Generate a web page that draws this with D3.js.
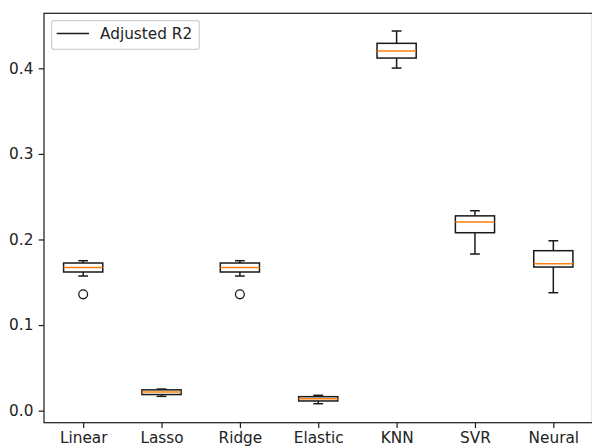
<!DOCTYPE html>
<html>
<head>
<meta charset="utf-8">
<script src="https://cdn.jsdelivr.net/npm/d3@7"></script>
<style>
  html, body { margin: 0; padding: 0; background: #fff; }
  svg { display: block; }
  text { font-family: "DejaVu Sans", sans-serif; }
</style>
</head>
<body>
<svg id="chart" width="592" height="448"></svg>
<script>
// ---- data ----
const categories = ["Linear", "Lasso", "Ridge", "Elastic", "KNN", "SVR", "Neural"];
const whiskerLow  = [0.1573, 0.0167, 0.1573, 0.0081, 0.4003, 0.1830, 0.1378];
const q1          = [0.1620, 0.0188, 0.1620, 0.0113, 0.4120, 0.2079, 0.1678];
const medians     = [0.1674, 0.0217, 0.1674, 0.0139, 0.4202, 0.2204, 0.1716];
const q3          = [0.1725, 0.0243, 0.1725, 0.0163, 0.4292, 0.2276, 0.1869];
const whiskerHigh = [0.1752, 0.0252, 0.1752, 0.0179, 0.4436, 0.2336, 0.1985];
const outliers    = [[0.1359], [], [0.1359], [], [], [], []];
const yTicks      = [0.0, 0.1, 0.2, 0.3, 0.4];
const legendLabel = "Adjusted R2";

// ---- layout ----
const plot = { left: 44, right: 592.5, top: 13.3, bottom: 422.7 };
const svg = d3.select("#chart");

const x = d3.scaleLinear().domain([0.5, 7.5]).range([plot.left, plot.right]);
const y = d3.scaleLinear().domain([-0.0141, 0.4643]).range([plot.bottom, plot.top]);

const boxW = x(1.25) - x(1);      // half-width of box (width 0.5)
const capW = boxW / 2;

const data = categories.map((c, i) => ({
  name: c, pos: i + 1,
  lo: whiskerLow[i], q1: q1[i], med: medians[i], q3: q3[i], hi: whiskerHigh[i],
  out: outliers[i]
}));

const g = svg.append("g");
const lw = 1.5;
const ink = "#1a1a1a";

data.forEach(d => {
  const cx = x(d.pos);
  const gg = g.append("g");
  gg.append("line").attr("x1", cx).attr("x2", cx).attr("y1", y(d.q1)).attr("y2", y(d.lo))
    .attr("stroke", ink).attr("stroke-width", lw);
  gg.append("line").attr("x1", cx).attr("x2", cx).attr("y1", y(d.q3)).attr("y2", y(d.hi))
    .attr("stroke", ink).attr("stroke-width", lw);
  gg.append("line").attr("x1", cx - capW / 2).attr("x2", cx + capW / 2).attr("y1", y(d.lo)).attr("y2", y(d.lo))
    .attr("stroke", ink).attr("stroke-width", lw);
  gg.append("line").attr("x1", cx - capW / 2).attr("x2", cx + capW / 2).attr("y1", y(d.hi)).attr("y2", y(d.hi))
    .attr("stroke", ink).attr("stroke-width", lw);
  gg.append("rect").attr("x", cx - boxW).attr("width", boxW * 2)
    .attr("y", y(d.q3)).attr("height", y(d.q1) - y(d.q3))
    .attr("fill", "none").attr("stroke", ink).attr("stroke-width", lw);
  gg.append("line").attr("x1", cx - boxW).attr("x2", cx + boxW).attr("y1", y(d.med)).attr("y2", y(d.med))
    .attr("stroke", "#ff7f0e").attr("stroke-width", lw);
  d.out.forEach(v => {
    gg.append("circle").attr("cx", cx).attr("cy", y(v)).attr("r", 4.4)
      .attr("fill", "none").attr("stroke", ink).attr("stroke-width", 1.3);
  });
});

// ---- axes ----
const fs = "15.3px";
const tl = 5.3;
const yAxis = d3.axisLeft(y).tickValues(yTicks).tickFormat(d3.format(".1f")).tickSize(tl).tickPadding(tl);
const ya = svg.append("g").attr("transform", `translate(${plot.left},0)`).call(yAxis);
ya.select(".domain").remove();
ya.selectAll("line").attr("stroke", ink).attr("stroke-width", 1.2);
ya.selectAll("text").attr("font-size", fs).attr("fill", "#222").attr("font-family", "DejaVu Sans");

const xAxis = d3.axisBottom(x).tickValues(data.map(d => d.pos)).tickFormat((d, i) => categories[i]).tickSize(tl).tickPadding(tl - 1);
const xa = svg.append("g").attr("transform", `translate(0,${plot.bottom})`).call(xAxis);
xa.select(".domain").remove();
xa.selectAll("line").attr("stroke", ink).attr("stroke-width", 1.2);
xa.selectAll("text").attr("font-size", fs).attr("fill", "#222").attr("font-family", "DejaVu Sans");

// spines
svg.append("rect").attr("x", plot.left).attr("y", plot.top)
  .attr("width", plot.right - plot.left).attr("height", plot.bottom - plot.top)
  .attr("fill", "none").attr("stroke", ink).attr("stroke-width", 1.2);

// ---- legend ----
const lg = svg.append("g");
lg.append("rect").attr("x", 51.7).attr("y", 20.7).attr("width", 147.6).attr("height", 28.6)
  .attr("rx", 2.5).attr("fill", "#fff").attr("fill-opacity", 0.8)
  .attr("stroke", "#d0d0d0").attr("stroke-width", 1.2);
lg.append("line").attr("x1", 56.7).attr("x2", 89).attr("y1", 33.6).attr("y2", 33.6)
  .attr("stroke", ink).attr("stroke-width", 1.5);
lg.append("text").attr("x", 100).attr("y", 39).attr("font-size", fs).attr("fill", "#222")
  .text(legendLabel);
</script>
</body>
</html>
